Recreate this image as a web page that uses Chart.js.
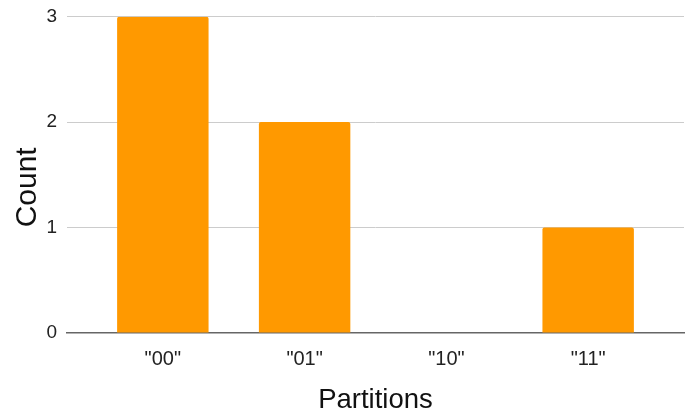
<!DOCTYPE html>
<html>
<head>
<meta charset="utf-8">
<script src="https://cdn.jsdelivr.net/npm/chart.js@4/dist/chart.umd.min.js"></script>
<style>
  html, body { margin: 0; padding: 0; background: #fff; }
  #wrap { width: 685px; height: 413px; position: relative; }
</style>
</head>
<body>
<div id="wrap"><canvas id="c"></canvas></div>
<script>
// Partition labels along the x axis and how many samples fell into each
const partitions = ['"00"', '"01"', '"10"', '"11"'];
const counts = [3, 2, 0, 1];
const countTicks = [0, 1, 2, 3];

const FONT = "'Liberation Sans', Arial, sans-serif";

new Chart(document.getElementById('c'), {
  type: 'bar',
  data: {
    datasets: [{
      label: 'Count',
      data: counts.map((v, i) => ({ x: i, y: v })),
      backgroundColor: '#ff9900',
      borderWidth: 0,
      borderRadius: 2,
      borderSkipped: 'bottom',
      barPercentage: 0.645,
      categoryPercentage: 1
    }]
  },
  options: {
    responsive: true,
    maintainAspectRatio: false,
    animation: false,
    layout: { padding: { top: 5, right: 1, bottom: 0, left: 0 } },
    plugins: { legend: { display: false }, tooltip: { enabled: false } },
    scales: {
      x: {
        type: 'linear',
        offset: false,
        min: -0.676,
        max: partitions.length - 1 + 0.676,
        afterBuildTicks: (s) => { s.ticks = partitions.map((_, i) => ({ value: i })); },
        afterFit: (s) => { s.height = 80; },
        grid: { display: false, offset: false },
        border: { display: true, color: '#666', width: 1.5 },
        ticks: {
          autoSkip: false,
          maxRotation: 0,
          padding: 6,
          color: '#222',
          font: { family: FONT, size: 20 },
          callback: (v) => partitions[v] !== undefined ? partitions[v] : ''
        },
        title: {
          display: true,
          text: 'Partitions',
          color: '#111',
          font: { family: FONT, size: 27.5 },
          padding: { top: 0, bottom: -4 }
        }
      },
      y: {
        min: 0,
        max: 3,
        afterBuildTicks: (s) => { s.ticks = countTicks.map(v => ({ value: v })); },
        afterFit: (s) => { s.width = 67; },
        grid: {
          color: (ctx) => ctx.tick && ctx.tick.value === 0 ? 'rgba(0,0,0,0)' : '#cccccc',
          lineWidth: 1,
          drawTicks: false
        },
        border: { display: false },
        ticks: {
          padding: 10,
          color: '#222',
          font: { family: FONT, size: 19, lineHeight: 0.7 }
        },
        title: {
          display: true,
          text: 'Count   ',
          color: '#111',
          font: { family: FONT, size: 30 },
          padding: { top: 10, bottom: 0 }
        }
      }
    }
  }
});
</script>
</body>
</html>
